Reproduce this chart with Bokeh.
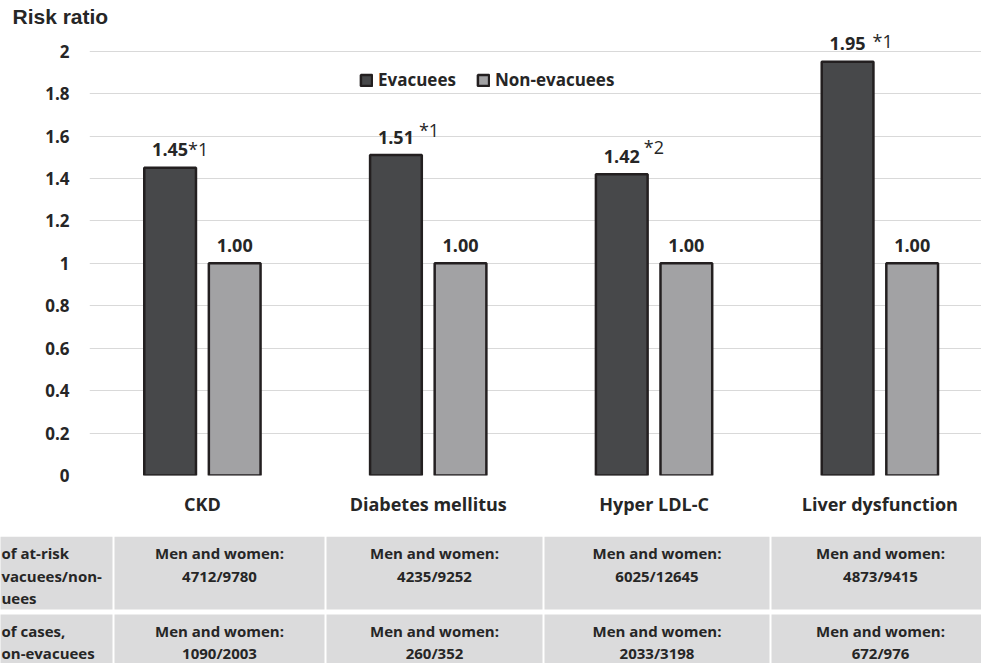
from bokeh.plotting import figure
from bokeh.models import (Range1d, FixedTicker, NumeralTickFormatter, Legend,
                          LegendItem, ColumnDataSource)
from bokeh.layouts import column
from bokeh.transform import dodge
from bokeh.embed import file_html
from bokeh.resources import INLINE
from bokeh.core.properties import value

# ---------------- data ----------------
categories = ["CKD", "Diabetes mellitus", "Hyper LDL-C", "Liver dysfunction"]
evacuees = [1.45, 1.51, 1.42, 1.95]
non_evacuees = [1.00, 1.00, 1.00, 1.00]
evac_labels = ["1.45", "1.51", "1.42", "1.95"]
non_evac_labels = ["1.00", "1.00", "1.00", "1.00"]
sig_marks = ["*1", "*1", "*2", "*1"]
y_ticks = [0, 0.2, 0.4, 0.6, 0.8, 1, 1.2, 1.4, 1.6, 1.8, 2]
series_names = ["Evacuees", "Non-evacuees"]
y_title = "Risk ratio"

row_headers = [["of at-risk", "vacuees/non-", "uees"],
               ["of cases,", "on-evacuees"]]
group_label = "Men and women:"
at_risk_counts = ["4712/9780", "4235/9252", "6025/12645", "4873/9415"]
case_counts = ["1090/2003", "260/352", "2033/3198", "672/976"]

# ---------------- layout / style ----------------
W = 981
H_CHART = 536
H_TABLE = 663 - H_CHART
Y_END = 2.102
DX = 0.143
BAR_W = 0.229
star_dx = [18, 23, 22, 25]
star_dy = [-19, -25.5, -27.5, -20.5]
TXT = "#262626"
FONT = "Open Sans"

x_idx = list(range(len(categories)))
src = ColumnDataSource(dict(x=x_idx, evac=evacuees, non=non_evacuees,
                            evac_lbl=evac_labels, non_lbl=non_evac_labels,
                            star=sig_marks, sdx=star_dx, sdy=star_dy))

p = figure(width=W, height=H_CHART, x_range=Range1d(-0.5, 3.45),
           y_range=Range1d(0, Y_END), output_backend="svg",
           toolbar_location=None, min_border_left=89, min_border_right=0,
           min_border_bottom=61, min_border_top=0, outline_line_color=None)
p.frame_align = False

r1 = p.vbar(x=dodge("x", -DX), top="evac", width=BAR_W, source=src,
            fill_color="#47484a", line_color="#231f20", line_width=2.5)
r2 = p.vbar(x=dodge("x", DX), top="non", width=BAR_W, source=src,
            fill_color="#a2a2a4", line_color="#231f20", line_width=2.5)

p.text(x=dodge("x", -DX), y="evac", text="evac_lbl", source=src,
       text_align="center", text_baseline="middle", y_offset=-18,
       text_font=value(FONT), text_font_style="bold", text_font_size="18px",
       text_color=TXT)
p.text(x=dodge("x", DX), y="non", text="non_lbl", source=src,
       text_align="center", text_baseline="middle", y_offset=-18,
       text_font=value(FONT), text_font_style="bold", text_font_size="18px",
       text_color=TXT)
p.text(x=dodge("x", -DX), y="evac", text="star", source=src,
       text_align="left", text_baseline="middle", x_offset="sdx",
       y_offset="sdy", text_font=value(FONT), text_font_size="18px",
       text_color=TXT)

legend = Legend(items=[LegendItem(label=series_names[0], renderers=[r1]),
                       LegendItem(label=series_names[1], renderers=[r2])],
                orientation="horizontal", location=(270, 384),
                glyph_width=14, glyph_height=14, label_height=20,
                label_standoff=5, spacing=20, padding=0, margin=0,
                border_line_color=None, background_fill_alpha=0,
                label_text_font=FONT, label_text_font_style="bold",
                label_text_font_size="17px", label_text_color=TXT)
p.add_layout(legend)

p.yaxis.ticker = FixedTicker(ticks=y_ticks)
p.yaxis.formatter = NumeralTickFormatter(format="0.[0]")
p.xaxis.ticker = FixedTicker(ticks=x_idx)
p.xaxis.major_label_overrides = {i: c for i, c in zip(x_idx, categories)}
for ax in (p.xaxis, p.yaxis):
    ax.axis_line_color = None
    ax.major_tick_line_color = None
    ax.minor_tick_line_color = None
    ax.major_label_text_font = FONT
    ax.major_label_text_font_style = "bold"
    ax.major_label_text_color = TXT
p.yaxis.major_label_text_font_size = "17px"
p.yaxis.major_label_standoff = 14
p.xaxis.major_label_text_font_size = "18px"
p.xaxis.major_label_standoff = 10
p.xgrid.visible = False
p.ygrid.grid_line_color = "#d9d9d9"
p.ygrid.grid_line_width = 1

p.title.text = y_title
p.title.align = "left"
p.title.offset = -77
p.title.text_font = "Liberation Sans"
p.title.text_font_size = "21px"
p.title.text_font_style = "bold"
p.title.text_color = TXT
p.title.standoff = 4

# ---------------- table ----------------
t = figure(width=W, height=H_TABLE, x_range=Range1d(0, W),
           y_range=Range1d(H_TABLE, 0), output_backend="svg",
           toolbar_location=None, x_axis_location=None, y_axis_location=None,
           min_border=0, outline_line_color=None)
t.frame_align = False
t.grid.visible = False

col_edges = [-5, 113, 325, 543, 770, 995]
row_edges = [(0, 73), (78, H_TABLE + 5)]
lefts, rights, tops, bottoms = [], [], [], []
for (rt, rb) in row_edges:
    for i in range(len(col_edges) - 1):
        lefts.append(col_edges[i] + 1)
        rights.append(col_edges[i + 1] - 1)
        tops.append(rt)
        bottoms.append(rb)
t.quad(left=lefts, right=rights, top=tops, bottom=bottoms,
       fill_color="#dbdbdc", line_color=None)

row_centers = [[16, 39, 61], [94, 116]]
hx, hy, htxt = [], [], []
for lines, cys in zip(row_headers, row_centers):
    for s, c in zip(lines, cys):
        hx.append(1)
        hy.append(c)
        htxt.append(s)
t.text(x=hx, y=hy, text=htxt, text_align="left", text_baseline="middle",
       text_font=value(FONT), text_font_style="bold", text_font_size="15px",
       text_color=TXT)

cx, cy, ctxt = [], [], []
centers = [(col_edges[i] + col_edges[i + 1]) / 2 for i in range(1, len(col_edges) - 1)]
centers[-1] = 880
for r, counts in enumerate([at_risk_counts, case_counts]):
    cys = row_centers[r]
    for c, cnt in zip(centers, counts):
        cx += [c, c]
        cy += [cys[0], cys[1]]
        ctxt += [group_label, cnt]
t.text(x=cx, y=cy, text=ctxt, text_align="center", text_baseline="middle",
       text_font=value(FONT), text_font_style="bold", text_font_size="15px",
       text_color=TXT)

layout = column(p, t, spacing=0)
open("out.html", "w").write(file_html(layout, INLINE))
